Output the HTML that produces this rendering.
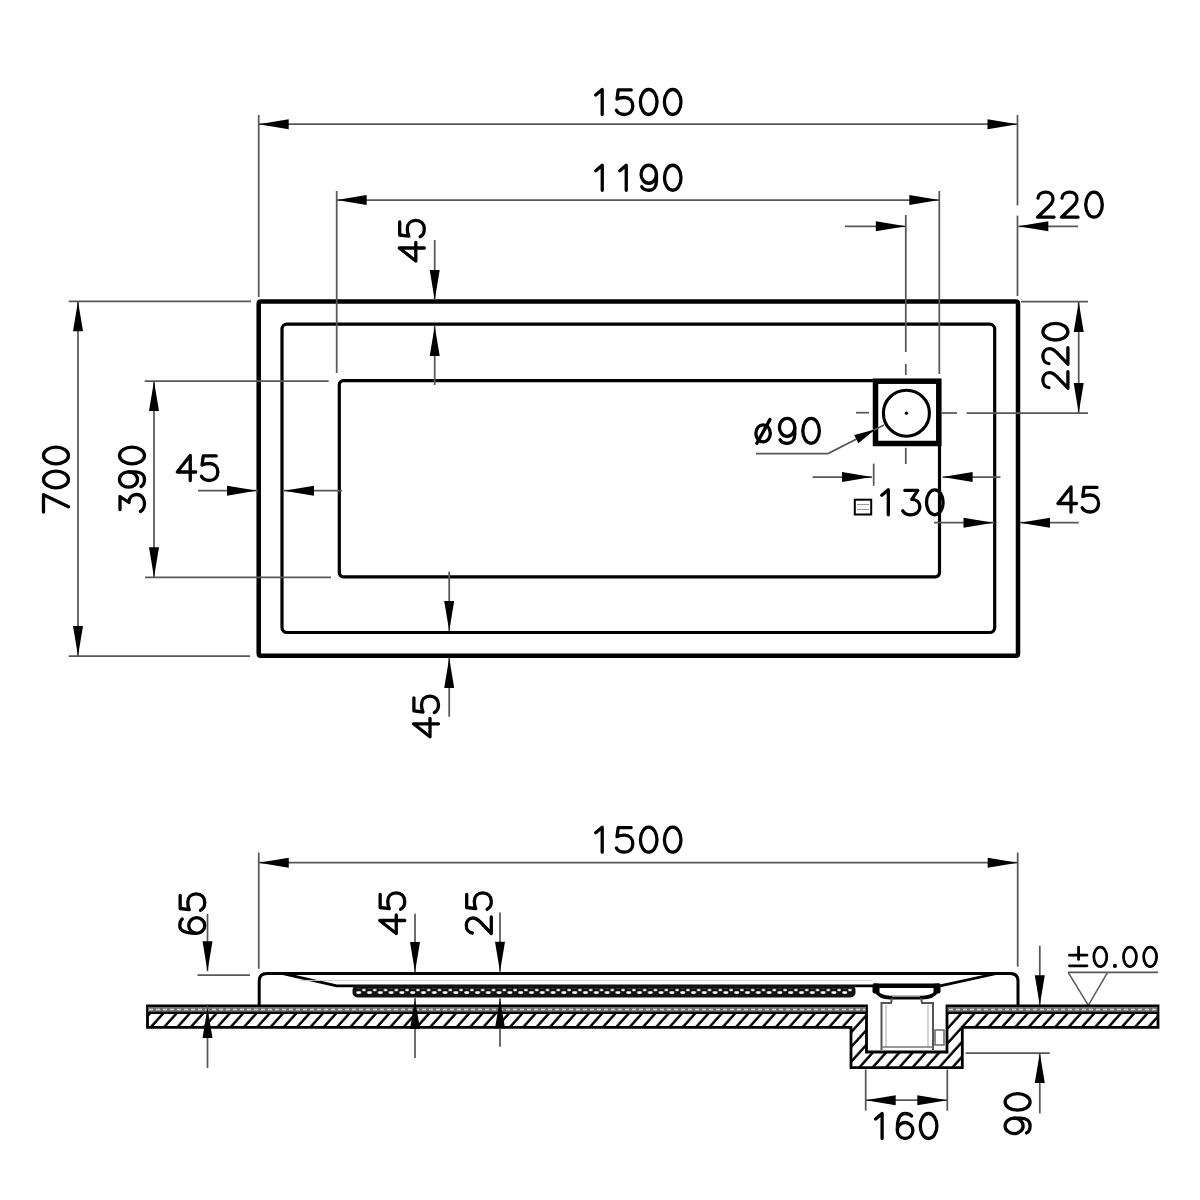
<!DOCTYPE html>
<html><head><meta charset="utf-8"><title>Shower tray drawing</title>
<style>
html,body{margin:0;padding:0;background:#fff;width:1200px;height:1200px;overflow:hidden}
svg{display:block}
text{font-family:"Liberation Sans",sans-serif;fill:#000}
</style></head><body>
<svg width="1200" height="1200" viewBox="0 0 1200 1200">
<defs>
<pattern id="hatch" patternUnits="userSpaceOnUse" width="13.3" height="14" patternTransform="translate(0,1013) skewX(-42)">
<rect width="13.3" height="14" fill="#fff"/><rect x="2.3" y="0" width="3.3" height="14" fill="#000"/>
</pattern>
<pattern id="grat" patternUnits="userSpaceOnUse" width="10.8" height="5.8" patternTransform="translate(356,988.3)">
<rect width="10.8" height="5.8" fill="#111"/>
<ellipse cx="7.9" cy="1.6" rx="1.9" ry="1.2" fill="#fff"/>
<ellipse cx="2.7" cy="4.4" rx="2.6" ry="1.4" fill="#fff"/>
</pattern>
</defs>
<rect width="1200" height="1200" fill="#fff"/>
<path d="M261 301.6 L1016 301.6 Q1018 301.6 1018 303.6 L1018 653.7 Q1018 655.7 1016 655.7 L260.7 655.7 Q258.7 655.7 258.7 653.7 L258.7 303.6 Q258.7 301.6 260.7 301.6 Z" stroke="#000" stroke-width="4.5" fill="none"/>
<rect x="282" y="324.1" width="712.7" height="308.4" rx="5" stroke="#000" stroke-width="3.2" fill="none"/>
<rect x="339.3" y="380.6" width="600.2" height="196.2" rx="4" stroke="#000" stroke-width="3.2" fill="none"/>
<rect x="875.5" y="381.2" width="63.3" height="62.3" stroke="#000" stroke-width="5.5" fill="none"/>
<circle cx="906.4" cy="413.2" r="23" stroke="#000" stroke-width="3.1" fill="none"/>
<circle cx="906.4" cy="413.2" r="1.6" fill="#000"/>
<line x1="258.7" y1="115" x2="258.7" y2="297" stroke="#585858" stroke-width="1.75"/>
<line x1="1017.5" y1="115" x2="1017.5" y2="205.5" stroke="#585858" stroke-width="1.75"/>
<line x1="1017.5" y1="215.6" x2="1017.5" y2="296" stroke="#585858" stroke-width="1.75"/>
<line x1="258.7" y1="124.2" x2="1017.5" y2="124.2" stroke="#585858" stroke-width="1.75"/>
<path d="M258.7 124.2 L288.7 119.2 L288.7 129.2 Z" fill="#000"/>
<path d="M1017.5 124.2 L987.5 129.2 L987.5 119.2 Z" fill="#000"/>
<g role="img" aria-label="1500" transform="translate(592.2,114.5)" fill="none" stroke="#000" stroke-width="3.3" stroke-linecap="round" stroke-linejoin="round"><title>1500</title><g transform="translate(0,0)"><path d="M3.5 -19.5 L10 -25 L10 0"/></g><g transform="translate(24,0)"><path d="M15 -24.6 L2 -24.6 L0.8 -15.5 C3 -16.6 5.5 -17 8.3 -17 C13.3 -17 16.6 -13.5 16.6 -8.5 C16.6 -3.5 13.3 0 8.3 0 C4.5 0 1.5 -1.5 0.2 -4.2"/></g><g transform="translate(48,0)"><ellipse cx="8.5" cy="-12.5" rx="8.3" ry="12.5"/></g><g transform="translate(72,0)"><ellipse cx="8.5" cy="-12.5" rx="8.3" ry="12.5"/></g></g>
<line x1="336.7" y1="191" x2="336.7" y2="373" stroke="#585858" stroke-width="1.75"/>
<line x1="939.3" y1="191" x2="939.3" y2="374" stroke="#585858" stroke-width="1.75"/>
<line x1="336.7" y1="200" x2="939.3" y2="200" stroke="#585858" stroke-width="1.75"/>
<path d="M336.7 200 L366.7 195 L366.7 205 Z" fill="#000"/>
<path d="M939.3 200 L909.3 205 L909.3 195 Z" fill="#000"/>
<g role="img" aria-label="1190" transform="translate(592.25,190.25)" fill="none" stroke="#000" stroke-width="3.3" stroke-linecap="round" stroke-linejoin="round"><title>1190</title><g transform="translate(0,0)"><path d="M3.5 -19.5 L10 -25 L10 0"/></g><g transform="translate(24,0)"><path d="M3.5 -19.5 L10 -25 L10 0"/></g><g transform="translate(48,0)"><ellipse cx="8.5" cy="-16" rx="7.7" ry="9"/><path d="M16.2 -16 L16.2 -9 C16.2 -3.5 13 0 8.5 0 C5.5 0 3 -1 1.5 -3.5"/></g><g transform="translate(72,0)"><ellipse cx="8.5" cy="-12.5" rx="8.3" ry="12.5"/></g></g>
<line x1="905.8" y1="215" x2="905.8" y2="352" stroke="#585858" stroke-width="1.75"/>
<line x1="905.8" y1="364" x2="905.8" y2="375" stroke="#585858" stroke-width="1.75"/>
<line x1="905.8" y1="447.8" x2="905.8" y2="464" stroke="#585858" stroke-width="1.75"/>
<line x1="845" y1="226.3" x2="905.8" y2="226.3" stroke="#585858" stroke-width="1.75"/>
<path d="M905.8 226.3 L875.8 231.3 L875.8 221.3 Z" fill="#000"/>
<line x1="1018.3" y1="226.3" x2="1078" y2="226.3" stroke="#585858" stroke-width="1.75"/>
<path d="M1018.3 226.3 L1048.3 221.3 L1048.3 231.3 Z" fill="#000"/>
<g role="img" aria-label="220" transform="translate(1037.5,217.2)" fill="none" stroke="#000" stroke-width="3.3" stroke-linecap="round" stroke-linejoin="round"><title>220</title><g transform="translate(0,0)"><path d="M0.5 -19 C0.8 -22.8 4 -25 8.2 -25 C12.5 -25 15.5 -22.3 15.5 -18.3 C15.5 -15.5 14 -13.5 11.5 -11 L0 0 L16.5 0"/></g><g transform="translate(24,0)"><path d="M0.5 -19 C0.8 -22.8 4 -25 8.2 -25 C12.5 -25 15.5 -22.3 15.5 -18.3 C15.5 -15.5 14 -13.5 11.5 -11 L0 0 L16.5 0"/></g><g transform="translate(48,0)"><ellipse cx="8.5" cy="-12.5" rx="8.3" ry="12.5"/></g></g>
<line x1="434.7" y1="240" x2="434.7" y2="300" stroke="#585858" stroke-width="1.75"/>
<path d="M434.7 300 L429.7 270 L439.7 270 Z" fill="#000"/>
<line x1="434.7" y1="326" x2="434.7" y2="385" stroke="#585858" stroke-width="1.75"/>
<path d="M434.7 326 L439.7 356 L429.7 356 Z" fill="#000"/>
<g role="img" aria-label="45" transform="translate(424.3,261) rotate(-90)" fill="none" stroke="#000" stroke-width="3.3" stroke-linecap="round" stroke-linejoin="round"><title>45</title><g transform="translate(0,0)"><path d="M13 0 L13 -25 L0 -8.5 L18.5 -8.5"/></g><g transform="translate(24,0)"><path d="M15 -24.6 L2 -24.6 L0.8 -15.5 C3 -16.6 5.5 -17 8.3 -17 C13.3 -17 16.6 -13.5 16.6 -8.5 C16.6 -3.5 13.3 0 8.3 0 C4.5 0 1.5 -1.5 0.2 -4.2"/></g></g>
<line x1="68.7" y1="301.3" x2="251" y2="301.3" stroke="#585858" stroke-width="1.75"/>
<line x1="68.7" y1="656" x2="250" y2="656" stroke="#585858" stroke-width="1.75"/>
<line x1="78" y1="301.3" x2="78" y2="656" stroke="#585858" stroke-width="1.75"/>
<path d="M78 301.3 L83 331.3 L73 331.3 Z" fill="#000"/>
<path d="M78 656 L73 626 L83 626 Z" fill="#000"/>
<g role="img" aria-label="700" transform="translate(68.5,512) rotate(-90)" fill="none" stroke="#000" stroke-width="3.3" stroke-linecap="round" stroke-linejoin="round"><title>700</title><g transform="translate(0,0)"><path d="M0 -25 L17.3 -25 L5.3 0"/></g><g transform="translate(24,0)"><ellipse cx="8.5" cy="-12.5" rx="8.3" ry="12.5"/></g><g transform="translate(48,0)"><ellipse cx="8.5" cy="-12.5" rx="8.3" ry="12.5"/></g></g>
<line x1="144.7" y1="381" x2="328.7" y2="381" stroke="#585858" stroke-width="1.75"/>
<line x1="145" y1="577.3" x2="331" y2="577.3" stroke="#585858" stroke-width="1.75"/>
<line x1="154" y1="381" x2="154" y2="577.3" stroke="#585858" stroke-width="1.75"/>
<path d="M154 381 L159 411 L149 411 Z" fill="#000"/>
<path d="M154 577.3 L149 547.3 L159 547.3 Z" fill="#000"/>
<g role="img" aria-label="390" transform="translate(144.5,512) rotate(-90)" fill="none" stroke="#000" stroke-width="3.3" stroke-linecap="round" stroke-linejoin="round"><title>390</title><g transform="translate(0,0)"><path d="M2.5 -24.5 L15.5 -24.5 L9.5 -15.5 C14.5 -15.5 17.5 -12.5 17.5 -8 C17.5 -3 13.5 0 8.5 0 C5 0 2 -1.5 0.5 -4"/></g><g transform="translate(24,0)"><ellipse cx="8.5" cy="-16" rx="7.7" ry="9"/><path d="M16.2 -16 L16.2 -9 C16.2 -3.5 13 0 8.5 0 C5.5 0 3 -1 1.5 -3.5"/></g><g transform="translate(48,0)"><ellipse cx="8.5" cy="-12.5" rx="8.3" ry="12.5"/></g></g>
<line x1="198" y1="490.7" x2="258" y2="490.7" stroke="#585858" stroke-width="1.75"/>
<path d="M257 490.7 L227 495.7 L227 485.7 Z" fill="#000"/>
<line x1="284" y1="490.7" x2="342" y2="490.7" stroke="#585858" stroke-width="1.75"/>
<path d="M284 490.7 L314 485.7 L314 495.7 Z" fill="#000"/>
<g role="img" aria-label="45" transform="translate(177.25,480.5)" fill="none" stroke="#000" stroke-width="3.3" stroke-linecap="round" stroke-linejoin="round"><title>45</title><g transform="translate(0,0)"><path d="M13 0 L13 -25 L0 -8.5 L18.5 -8.5"/></g><g transform="translate(24,0)"><path d="M15 -24.6 L2 -24.6 L0.8 -15.5 C3 -16.6 5.5 -17 8.3 -17 C13.3 -17 16.6 -13.5 16.6 -8.5 C16.6 -3.5 13.3 0 8.3 0 C4.5 0 1.5 -1.5 0.2 -4.2"/></g></g>
<line x1="449.2" y1="571.7" x2="449.2" y2="631" stroke="#585858" stroke-width="1.75"/>
<path d="M449.2 631 L444.2 601 L454.2 601 Z" fill="#000"/>
<line x1="449.2" y1="658" x2="449.2" y2="716.7" stroke="#585858" stroke-width="1.75"/>
<path d="M449.2 658 L454.2 688 L444.2 688 Z" fill="#000"/>
<g role="img" aria-label="45" transform="translate(438.5,736.8) rotate(-90)" fill="none" stroke="#000" stroke-width="3.3" stroke-linecap="round" stroke-linejoin="round"><title>45</title><g transform="translate(0,0)"><path d="M13 0 L13 -25 L0 -8.5 L18.5 -8.5"/></g><g transform="translate(24,0)"><path d="M15 -24.6 L2 -24.6 L0.8 -15.5 C3 -16.6 5.5 -17 8.3 -17 C13.3 -17 16.6 -13.5 16.6 -8.5 C16.6 -3.5 13.3 0 8.3 0 C4.5 0 1.5 -1.5 0.2 -4.2"/></g></g>
<line x1="1021" y1="301.7" x2="1088" y2="301.7" stroke="#585858" stroke-width="1.75"/>
<line x1="941" y1="413" x2="957" y2="413" stroke="#585858" stroke-width="1.75"/>
<line x1="966.7" y1="413" x2="1088" y2="413" stroke="#585858" stroke-width="1.75"/>
<line x1="856" y1="412.7" x2="869" y2="412.7" stroke="#585858" stroke-width="1.75"/>
<line x1="1078.7" y1="302" x2="1078.7" y2="413" stroke="#585858" stroke-width="1.75"/>
<path d="M1078.7 302 L1083.7 332 L1073.7 332 Z" fill="#000"/>
<path d="M1078.7 413 L1073.7 383 L1083.7 383 Z" fill="#000"/>
<g role="img" aria-label="220" transform="translate(1067.9,388.2) rotate(-90)" fill="none" stroke="#000" stroke-width="3.3" stroke-linecap="round" stroke-linejoin="round"><title>220</title><g transform="translate(0,0)"><path d="M0.5 -19 C0.8 -22.8 4 -25 8.2 -25 C12.5 -25 15.5 -22.3 15.5 -18.3 C15.5 -15.5 14 -13.5 11.5 -11 L0 0 L16.5 0"/></g><g transform="translate(24,0)"><path d="M0.5 -19 C0.8 -22.8 4 -25 8.2 -25 C12.5 -25 15.5 -22.3 15.5 -18.3 C15.5 -15.5 14 -13.5 11.5 -11 L0 0 L16.5 0"/></g><g transform="translate(48,0)"><ellipse cx="8.5" cy="-12.5" rx="8.3" ry="12.5"/></g></g>
<path d="M756 453.6 L828 453.6 L884 425" stroke="#585858" stroke-width="1.75" fill="none"/>
<path d="M875 429.5 L858.39 443.15 L854.21 434.95 Z" fill="#000"/>
<g role="img" aria-label="ø90" transform="translate(754.6,443.3)" fill="none" stroke="#000" stroke-width="3.3" stroke-linecap="round" stroke-linejoin="round"><title>ø90</title><g transform="translate(0,0)"><ellipse cx="8.5" cy="-10" rx="7.25" ry="8.5"/><path d="M2.3 0 L15.3 -23.7"/></g><g transform="translate(24,0)"><ellipse cx="8.5" cy="-16" rx="7.7" ry="9"/><path d="M16.2 -16 L16.2 -9 C16.2 -3.5 13 0 8.5 0 C5.5 0 3 -1 1.5 -3.5"/></g><g transform="translate(48,0)"><ellipse cx="8.5" cy="-12.5" rx="8.3" ry="12.5"/></g></g>
<line x1="812.6" y1="477" x2="872" y2="477" stroke="#585858" stroke-width="1.75"/>
<path d="M872 477 L842 482 L842 472 Z" fill="#000"/>
<line x1="873.7" y1="463.6" x2="873.7" y2="485.7" stroke="#585858" stroke-width="1.75"/>
<line x1="942.6" y1="477" x2="1000.5" y2="477" stroke="#585858" stroke-width="1.75"/>
<path d="M942.6 477 L972.6 472 L972.6 482 Z" fill="#000"/>
<g role="img" aria-label="130" transform="translate(878.3,514.8)" fill="none" stroke="#000" stroke-width="3.3" stroke-linecap="round" stroke-linejoin="round"><title>130</title><g transform="translate(0,0)"><path d="M3.5 -19.5 L10 -25 L10 0"/></g><g transform="translate(24,0)"><path d="M2.5 -24.5 L15.5 -24.5 L9.5 -15.5 C14.5 -15.5 17.5 -12.5 17.5 -8 C17.5 -3 13.5 0 8.5 0 C5 0 2 -1.5 0.5 -4"/></g><g transform="translate(48,0)"><ellipse cx="8.5" cy="-12.5" rx="8.3" ry="12.5"/></g></g>
<rect x="854.8" y="499.7" width="16.4" height="14.8" stroke="#000" stroke-width="2" fill="none"/>
<line x1="857" y1="504.5" x2="869" y2="504.5" stroke="#999" stroke-width="1"/>
<line x1="857" y1="509.5" x2="869" y2="509.5" stroke="#999" stroke-width="1"/>
<line x1="934" y1="522.7" x2="994" y2="522.7" stroke="#585858" stroke-width="1.75"/>
<path d="M993.5 522.7 L963.5 527.7 L963.5 517.7 Z" fill="#000"/>
<line x1="1020" y1="522.7" x2="1078.7" y2="522.7" stroke="#585858" stroke-width="1.75"/>
<path d="M1020 522.7 L1050 517.7 L1050 527.7 Z" fill="#000"/>
<g role="img" aria-label="45" transform="translate(1058,512)" fill="none" stroke="#000" stroke-width="3.3" stroke-linecap="round" stroke-linejoin="round"><title>45</title><g transform="translate(0,0)"><path d="M13 0 L13 -25 L0 -8.5 L18.5 -8.5"/></g><g transform="translate(24,0)"><path d="M15 -24.6 L2 -24.6 L0.8 -15.5 C3 -16.6 5.5 -17 8.3 -17 C13.3 -17 16.6 -13.5 16.6 -8.5 C16.6 -3.5 13.3 0 8.3 0 C4.5 0 1.5 -1.5 0.2 -4.2"/></g></g>
<line x1="258.75" y1="852.5" x2="258.75" y2="968.75" stroke="#585858" stroke-width="1.75"/>
<line x1="1017.7" y1="852.5" x2="1017.7" y2="966.7" stroke="#585858" stroke-width="1.75"/>
<line x1="258.75" y1="862.7" x2="1017.7" y2="862.7" stroke="#585858" stroke-width="1.75"/>
<path d="M258.75 862.7 L288.75 857.7 L288.75 867.7 Z" fill="#000"/>
<path d="M1017.7 862.7 L987.7 867.7 L987.7 857.7 Z" fill="#000"/>
<g role="img" aria-label="1500" transform="translate(592.2,852.2)" fill="none" stroke="#000" stroke-width="3.3" stroke-linecap="round" stroke-linejoin="round"><title>1500</title><g transform="translate(0,0)"><path d="M3.5 -19.5 L10 -25 L10 0"/></g><g transform="translate(24,0)"><path d="M15 -24.6 L2 -24.6 L0.8 -15.5 C3 -16.6 5.5 -17 8.3 -17 C13.3 -17 16.6 -13.5 16.6 -8.5 C16.6 -3.5 13.3 0 8.3 0 C4.5 0 1.5 -1.5 0.2 -4.2"/></g><g transform="translate(48,0)"><ellipse cx="8.5" cy="-12.5" rx="8.3" ry="12.5"/></g><g transform="translate(72,0)"><ellipse cx="8.5" cy="-12.5" rx="8.3" ry="12.5"/></g></g>
<line x1="207.5" y1="913.75" x2="207.5" y2="971.25" stroke="#585858" stroke-width="1.75"/>
<path d="M207.5 971.25 L202.5 941.25 L212.5 941.25 Z" fill="#000"/>
<line x1="197.5" y1="975" x2="250" y2="975" stroke="#585858" stroke-width="1.75"/>
<g role="img" aria-label="65" transform="translate(204.75,934.5) rotate(-90)" fill="none" stroke="#000" stroke-width="3.3" stroke-linecap="round" stroke-linejoin="round"><title>65</title><g transform="translate(0,0)"><ellipse cx="9" cy="-8" rx="7.8" ry="8"/><path d="M15.5 -22.5 C14 -24.3 11.5 -25 9 -25 C4 -25 1.2 -20 1.2 -9"/></g><g transform="translate(24,0)"><path d="M15 -24.6 L2 -24.6 L0.8 -15.5 C3 -16.6 5.5 -17 8.3 -17 C13.3 -17 16.6 -13.5 16.6 -8.5 C16.6 -3.5 13.3 0 8.3 0 C4.5 0 1.5 -1.5 0.2 -4.2"/></g></g>
<line x1="415" y1="913.75" x2="415" y2="972" stroke="#585858" stroke-width="1.75"/>
<path d="M415 972 L410 942 L420 942 Z" fill="#000"/>
<g role="img" aria-label="45" transform="translate(404.75,933.5) rotate(-90)" fill="none" stroke="#000" stroke-width="3.3" stroke-linecap="round" stroke-linejoin="round"><title>45</title><g transform="translate(0,0)"><path d="M13 0 L13 -25 L0 -8.5 L18.5 -8.5"/></g><g transform="translate(24,0)"><path d="M15 -24.6 L2 -24.6 L0.8 -15.5 C3 -16.6 5.5 -17 8.3 -17 C13.3 -17 16.6 -13.5 16.6 -8.5 C16.6 -3.5 13.3 0 8.3 0 C4.5 0 1.5 -1.5 0.2 -4.2"/></g></g>
<line x1="500" y1="912.5" x2="500" y2="971.7" stroke="#585858" stroke-width="1.75"/>
<path d="M500 971.7 L495 941.7 L505 941.7 Z" fill="#000"/>
<g role="img" aria-label="25" transform="translate(491.3,933.5) rotate(-90)" fill="none" stroke="#000" stroke-width="3.3" stroke-linecap="round" stroke-linejoin="round"><title>25</title><g transform="translate(0,0)"><path d="M0.5 -19 C0.8 -22.8 4 -25 8.2 -25 C12.5 -25 15.5 -22.3 15.5 -18.3 C15.5 -15.5 14 -13.5 11.5 -11 L0 0 L16.5 0"/></g><g transform="translate(24,0)"><path d="M15 -24.6 L2 -24.6 L0.8 -15.5 C3 -16.6 5.5 -17 8.3 -17 C13.3 -17 16.6 -13.5 16.6 -8.5 C16.6 -3.5 13.3 0 8.3 0 C4.5 0 1.5 -1.5 0.2 -4.2"/></g></g>
<line x1="1039.8" y1="945.7" x2="1039.8" y2="1005.3" stroke="#585858" stroke-width="1.75"/>
<path d="M1039.8 1005.3 L1034.8 975.3 L1044.8 975.3 Z" fill="#000"/>
<line x1="965.5" y1="1053" x2="1049.8" y2="1053" stroke="#585858" stroke-width="1.75"/>
<line x1="1039.8" y1="1053" x2="1039.8" y2="1113.4" stroke="#585858" stroke-width="1.75"/>
<path d="M1039.8 1053 L1044.8 1083 L1034.8 1083 Z" fill="#000"/>
<g role="img" aria-label="90" transform="translate(1030.1,1134.4) rotate(-90)" fill="none" stroke="#000" stroke-width="3.3" stroke-linecap="round" stroke-linejoin="round"><title>90</title><g transform="translate(0,0)"><ellipse cx="8.5" cy="-16" rx="7.7" ry="9"/><path d="M16.2 -16 L16.2 -9 C16.2 -3.5 13 0 8.5 0 C5.5 0 3 -1 1.5 -3.5"/></g><g transform="translate(24,0)"><ellipse cx="8.5" cy="-12.5" rx="8.3" ry="12.5"/></g></g>
<line x1="865.7" y1="1069.4" x2="865.7" y2="1110.7" stroke="#585858" stroke-width="1.75"/>
<line x1="947.3" y1="1069.4" x2="947.3" y2="1110.7" stroke="#585858" stroke-width="1.75"/>
<line x1="865.7" y1="1100.2" x2="947.3" y2="1100.2" stroke="#585858" stroke-width="1.75"/>
<path d="M865.7 1100.2 L895.7 1095.2 L895.7 1105.2 Z" fill="#000"/>
<path d="M947.3 1100.2 L917.3 1105.2 L917.3 1095.2 Z" fill="#000"/>
<g role="img" aria-label="160" transform="translate(872.1,1138.5)" fill="none" stroke="#000" stroke-width="3.3" stroke-linecap="round" stroke-linejoin="round"><title>160</title><g transform="translate(0,0)"><path d="M3.5 -19.5 L10 -25 L10 0"/></g><g transform="translate(24,0)"><ellipse cx="9" cy="-8" rx="7.8" ry="8"/><path d="M15.5 -22.5 C14 -24.3 11.5 -25 9 -25 C4 -25 1.2 -20 1.2 -9"/></g><g transform="translate(48,0)"><ellipse cx="8.5" cy="-12.5" rx="8.3" ry="12.5"/></g></g>
<g role="img" aria-label="±0.00" transform="translate(1069.5,966.6) scale(0.78)" fill="none" stroke="#000" stroke-width="3.59" stroke-linecap="round" stroke-linejoin="round"><title>±0.00</title><g transform="translate(0,0)"><path d="M11.6 -24.8 L11.6 -9.2 M0 -14.6 L22.4 -14.6 M0 -1 L22.4 -1"/></g><g transform="translate(31,0)"><ellipse cx="8.5" cy="-12.5" rx="8.3" ry="12.5"/></g><g transform="translate(58.2,0)"><circle cx="0" cy="-0.8" r="2.7" fill="#000" stroke="none"/></g><g transform="translate(69,0)"><ellipse cx="8.5" cy="-12.5" rx="8.3" ry="12.5"/></g><g transform="translate(94.9,0)"><ellipse cx="8.5" cy="-12.5" rx="8.3" ry="12.5"/></g></g>
<line x1="1068" y1="972.3" x2="1158" y2="972.3" stroke="#585858" stroke-width="1.75"/>
<path d="M1068.2 972.3 L1088.3 1005.3 L1107.6 972.3" stroke="#585858" stroke-width="1.5" fill="none"/>
<path d="M147.5 1006 L866.5 1006 L866.5 1052 L947 1052 L947 1006 L1158 1006 L1158 1027.3 L962.3 1027.3 L962.3 1067.6 L851 1067.6 L851 1027.3 L147.5 1027.3 Z" fill="url(#hatch)" stroke="#000" stroke-width="2.8"/>
<rect x="148" y="1007" width="718" height="5.5" fill="#707070"/>
<rect x="947.5" y="1007" width="210" height="5.5" fill="#707070"/>
<line x1="149" y1="1009.5" x2="865" y2="1009.5" stroke="#d8d8d8" stroke-width="1.6" stroke-dasharray="4 3"/>
<line x1="949" y1="1009.5" x2="1156" y2="1009.5" stroke="#d8d8d8" stroke-width="1.6" stroke-dasharray="4 3"/>
<line x1="147.5" y1="1012.8" x2="866.5" y2="1012.8" stroke="#000" stroke-width="2.2"/>
<line x1="947" y1="1012.8" x2="1158" y2="1012.8" stroke="#000" stroke-width="2.2"/>
<path d="M259.2 1006 L259.2 981 Q259.2 973.5 267 973.5 L1010 973.5 Q1018 973.5 1018 981 L1018 1006" stroke="#000" stroke-width="3" fill="none"/>
<path d="M283 973.6 L336.7 985.8 L873 985.8" stroke="#000" stroke-width="2.8" fill="none"/>
<path d="M940 985.8 L996.7 973.5" stroke="#000" stroke-width="2.8" fill="none"/>
<line x1="300" y1="980.4" x2="872" y2="980.4" stroke="#d0d0d0" stroke-width="1"/>
<rect x="352.5" y="985" width="503" height="12.5" rx="5" fill="#111"/>
<rect x="356" y="988.3" width="496" height="5.8" fill="url(#grat)"/>
<path d="M873 985.8 L940 985.8" stroke="#000" stroke-width="4.6" fill="none"/>
<path d="M876 985 L876 991 C879 996 884 997.6 890 997.6 L922 997.6 C928 997.6 934 996 937 991 L937 985" stroke="#000" stroke-width="3.6" fill="none"/>
<rect x="872.5" y="983.5" width="7" height="10" rx="2" fill="#000"/>
<rect x="933.5" y="983.5" width="7" height="10" rx="2" fill="#000"/>
<line x1="892" y1="996.5" x2="920" y2="996.5" stroke="#888" stroke-width="1.2"/>
<path d="M881.5 1050 L881.5 1003 L891 1003 L892 998" stroke="#555" stroke-width="2" fill="none"/>
<path d="M933 1050 L933 1003 L922 1003 L921 998" stroke="#555" stroke-width="2" fill="none"/>
<line x1="886" y1="1005" x2="886" y2="1047" stroke="#aaa" stroke-width="1"/>
<line x1="928" y1="1005" x2="928" y2="1047" stroke="#aaa" stroke-width="1"/>
<line x1="881.5" y1="1047" x2="933" y2="1047" stroke="#777" stroke-width="1.5"/>
<rect x="935" y="1030" width="9" height="15" stroke="#666" stroke-width="1.5" fill="none"/>
<line x1="207.5" y1="1006" x2="207.5" y2="1068" stroke="#585858" stroke-width="1.75"/>
<path d="M207.5 1008 L212.5 1038 L202.5 1038 Z" fill="#000"/>
<line x1="415" y1="998" x2="415" y2="1058" stroke="#585858" stroke-width="1.75"/>
<path d="M415 999 L420 1029 L410 1029 Z" fill="#000"/>
<line x1="500" y1="998.3" x2="500" y2="1046.7" stroke="#585858" stroke-width="1.75"/>
<path d="M500 998.3 L505 1028.3 L495 1028.3 Z" fill="#000"/>
</svg>
</body></html>
